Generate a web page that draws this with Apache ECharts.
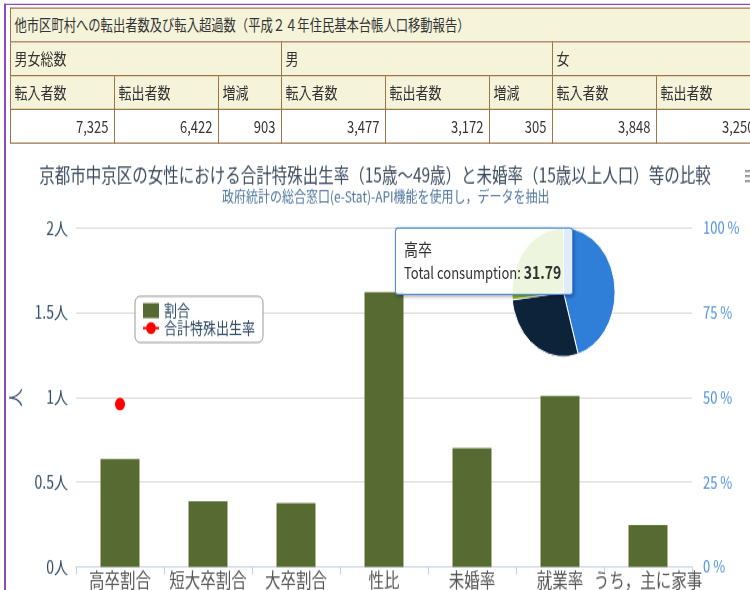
<!DOCTYPE html>
<html>
<head>
<meta charset="utf-8">
<script src="https://cdn.jsdelivr.net/npm/echarts@6/dist/echarts.min.js"></script>
<style>
    html, body {
        margin: 0;
        padding: 0;
        background: #fff;
        overflow: hidden;
    }
    #page {
        position: absolute;
        left: 0;
        top: 0;
        width: 750px;
        height: 472px;
        overflow: hidden;
        transform: scaleY(1.25);
        transform-origin: 0 0;
        font-family: "Noto Sans CJK JP", sans-serif;
    }
    #frame {
        position: absolute;
        left: 4px;
        top: 2.7px;
        width: 800px;
        height: 500px;
        border-left: 2px solid #8a4cc4;
        border-top: 1.6px solid #8a4cc4;
    }
    #moves {
        position: absolute;
        left: 9.5px;
        top: 6.4px;
        width: 813px;
        border-collapse: collapse;
        table-layout: fixed;
        font-size: 13px;
        color: #333;
    }
    #moves td {
        border: 1px solid #9b7647;
        height: 26px;
        padding: 0 4px;
        line-height: 14px;
        white-space: nowrap;
        overflow: hidden;
    }
    #moves .head td {
        background: #f5f3da;
    }
    #moves .caption td {
        font-size: 12.3px;
    }
    #moves .num td {
        background: #fff;
        text-align: right;
        padding-right: 5px;
    }
    #chart {
        position: absolute;
        left: 0;
        top: 120px;
        width: 750px;
        height: 352px;
    }
</style>
</head>
<body>
<div id="page">
    <div id="frame"></div>
    <table id="moves"></table>
    <div id="chart"></div>
</div>
<script>
// table data
var tableTitle = '他市区町村への転出者数及び転入超過数（平成２４年住民基本台帳人口移動報告）';
var groupNames = ['男女総数', '男', '女'];
var columnNames = ['転入者数', '転出者数', '増減'];
var moveIn = [7325, 3477, 3848];
var moveOut = [6422, 3172, 3250];
var netChange = [903, 305, 598];

// chart data
var chartTitle = '京都市中京区の女性における合計特殊出生率（15歳～49歳）と未婚率（15歳以上人口）等の比較';
var chartSubtitle = '政府統計の総合窓口(e-Stat)-API機能を使用し，データを抽出';
var categories = ['高卒割合', '短大卒割合', '大卒割合', '性比', '未婚率', '就業率', 'うち，主に家事'];
var ratioValues = [31.79, 19.4, 18.8, 81.1, 35.0, 50.4, 12.4];
var birthRate = [0.96, null, null, null, null, null, null];
var pieNames = ['高卒', '短大卒', '大卒'];
var pieValues = [31.79, 19.4, 18.8];
var leftUnit = '人';
var rightUnit = ' %';

var colWidths = [104, 104, 63];

function fmt(n) {
    return n.toLocaleString('en-US');
}

function buildTable() {
    var table = document.getElementById('moves');
    var html = '<colgroup>';
    for (var g = 0; g < groupNames.length; g++) {
        for (var c = 0; c < colWidths.length; c++) {
            html += '<col style="width:' + colWidths[c] + 'px">';
        }
    }
    html += '</colgroup>';
    html += '<tr class="head caption"><td colspan="9">' + tableTitle + '</td></tr>';
    html += '<tr class="head">';
    groupNames.forEach(function (name) {
        html += '<td colspan="3">' + name + '</td>';
    });
    html += '</tr><tr class="head">';
    groupNames.forEach(function () {
        columnNames.forEach(function (name) {
            html += '<td>' + name + '</td>';
        });
    });
    html += '</tr><tr class="num">';
    for (var i = 0; i < groupNames.length; i++) {
        html += '<td>' + fmt(moveIn[i]) + '</td><td>' + fmt(moveOut[i]) + '</td><td>' + fmt(netChange[i]) + '</td>';
    }
    html += '</tr>';
    table.innerHTML = html;
}

buildTable();

var font = '"Noto Sans CJK JP", sans-serif';
var myChart = echarts.init(document.getElementById('chart'));

var option = {
    animation: false,
    color: ['#2f7ed8', '#0d233a', '#8bbc21'],
    textStyle: {fontFamily: font},
    title: [{
        text: chartTitle,
        left: 'center',
        top: 12,
        padding: 0,
        textStyle: {fontSize: 15.5, fontWeight: 'normal', color: '#3b4b5d', fontFamily: font}
    }, {
        text: chartSubtitle,
        left: 222,
        top: 31,
        padding: 0,
        textStyle: {fontSize: 12, fontWeight: 'normal', color: '#4d759e', fontFamily: font}
    }],
    legend: {
        orient: 'vertical',
        left: 135,
        top: 117,
        padding: [5, 8, 5, 7],
        itemGap: 1,
        itemWidth: 16,
        itemHeight: 12,
        borderColor: '#999',
        borderWidth: 1,
        borderRadius: 5,
        backgroundColor: '#fff',
        textStyle: {fontSize: 13, color: '#2e4a66', fontFamily: font},
        data: [{name: '割合', icon: 'rect'}, {name: '合計特殊出生率'}]
    },
    tooltip: {
        trigger: 'item',
        triggerOn: 'none',
        alwaysShowContent: true,
        showDelay: 0,
        transitionDuration: 0,
        position: [395, 62],
        backgroundColor: 'rgba(255,255,255,0.85)',
        borderColor: '#4a8fdf',
        borderWidth: 1.5,
        padding: [7, 8],
        textStyle: {color: '#333', fontFamily: font},
        extraCssText: 'border-radius:3px;box-shadow:1px 1px 3px rgba(0,0,0,0.3);width:178px;height:54px;box-sizing:border-box;',
        formatter: function (p) {
            return '<div style="font-size:14px;line-height:18px">' + p.name + '</div>' +
                '<div style="font-size:13px;line-height:19px;white-space:nowrap">Total consumption: <b style="font-size:14px">' + p.value + '</b></div>';
        }
    },
    // export menu button, cut by the right edge
    graphic: [
        {type: 'rect', left: 745, top: 16, shape: {width: 9, height: 1.6}, style: {fill: '#888'}},
        {type: 'rect', left: 745, top: 20, shape: {width: 9, height: 1.6}, style: {fill: '#888'}},
        {type: 'rect', left: 745, top: 24, shape: {width: 9, height: 1.6}, style: {fill: '#888'}}
    ],
    grid: {left: 74, right: 58, top: 62.4, bottom: 17.6},
    xAxis: {
        type: 'category',
        data: categories,
        axisLine: {lineStyle: {color: '#c0d0e0'}},
        axisTick: {show: true, length: 6, lineStyle: {color: '#c0d0e0'}},
        axisLabel: {interval: 0, fontSize: 15.5, color: '#555', margin: 3, fontFamily: font}
    },
    yAxis: [{
        type: 'value',
        min: 0,
        max: 2,
        interval: 0.5,
        position: 'left',
        name: leftUnit,
        nameLocation: 'middle',
        nameRotate: 90,
        nameGap: 53,
        nameTextStyle: {fontSize: 15, color: '#2e4a66', fontFamily: font},
        axisLine: {show: false},
        axisTick: {show: false},
        axisLabel: {
            fontSize: 14,
            color: '#2e4a66',
            margin: 8,
            fontFamily: font,
            formatter: function (v) { return v + leftUnit; }
        },
        splitLine: {lineStyle: {color: '#d8d8d8'}}
    }, {
        type: 'value',
        min: 0,
        max: 100,
        interval: 25,
        position: 'right',
        axisLine: {show: false},
        axisTick: {show: false},
        axisLabel: {
            fontSize: 13,
            color: '#4a8fdf',
            margin: 11,
            fontFamily: font,
            formatter: function (v) { return v + rightUnit; }
        },
        splitLine: {show: false}
    }],
    series: [{
        name: '割合',
        type: 'bar',
        yAxisIndex: 1,
        barWidth: 39,
        itemStyle: {color: '#576a31'},
        data: ratioValues
    }, {
        name: '合計特殊出生率',
        type: 'line',
        yAxisIndex: 0,
        symbol: 'circle',
        symbolSize: 10,
        lineStyle: {color: '#ff0000', width: 2},
        itemStyle: {color: '#ff0000'},
        data: birthRate
    }, {
        name: '学歴',
        type: 'pie',
        center: [563.5, 113.8],
        radius: 51.6,
        startAngle: 90,
        clockwise: true,
        label: {show: false},
        labelLine: {show: false},
        emphasis: {disabled: true},
        itemStyle: {borderColor: '#fff', borderWidth: 1},
        data: pieNames.map(function (name, i) {
            return {name: name, value: pieValues[i]};
        })
    }]
};

myChart.setOption(option);
myChart.dispatchAction({type: 'showTip', seriesIndex: 2, dataIndex: 0});
</script>
</body>
</html>
